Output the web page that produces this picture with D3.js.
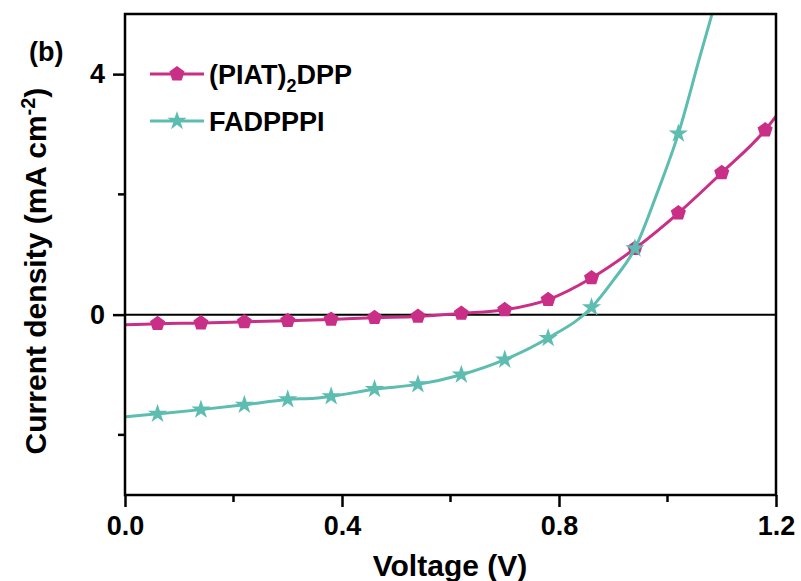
<!DOCTYPE html>
<html>
<head>
<meta charset="utf-8">
<script src="https://cdn.jsdelivr.net/npm/d3@7"></script>
<style>
  body { margin: 0; background: #fff; }
  svg text { font-family: "Liberation Sans", Arial, sans-serif; font-weight: bold; fill: #000; }
</style>
</head>
<body>
<svg id="chart" width="801" height="581"></svg>
<script>
// voltage points
const piatVoltage = [0.0, 0.06, 0.14, 0.22, 0.30, 0.38, 0.46, 0.54, 0.62, 0.70, 0.78, 0.86, 0.94, 1.02, 1.10, 1.18, 1.20];
const piatCurrent = [-0.17, -0.15, -0.14, -0.12, -0.10, -0.08, -0.05, -0.03, 0.02, 0.08, 0.25, 0.61, 1.10, 1.69, 2.36, 3.07, 3.30];
const piatMarked = [0.06, 0.14, 0.22, 0.30, 0.38, 0.46, 0.54, 0.62, 0.70, 0.78, 0.86, 0.94, 1.02, 1.10, 1.18];

const fadVoltage = [0.0, 0.06, 0.14, 0.22, 0.30, 0.35, 0.38, 0.46, 0.54, 0.62, 0.70, 0.78, 0.86, 0.90, 0.94, 0.98, 1.02, 1.06, 1.09];
const fadCurrent = [-1.70, -1.65, -1.58, -1.50, -1.41, -1.39, -1.36, -1.24, -1.16, -1.00, -0.75, -0.39, 0.12, 0.57, 1.10, 2.00, 3.01, 4.30, 5.25];
const fadMarked = [0.06, 0.14, 0.22, 0.30, 0.38, 0.46, 0.54, 0.62, 0.70, 0.78, 0.86, 0.94, 1.02];

const xMajor = [0.0, 0.4, 0.8, 1.2];
const xMinor = [0.2, 0.6, 1.0];
const yMajor = [0, 4];
const yMinor = [-2, 2];

const pink = "#c92f86";
const teal = "#5cbdb0";

const plotLeft = 125, plotRight = 776, plotTop = 14, plotBottom = 495;
const svg = d3.select("#chart");

const x = d3.scaleLinear().domain([0, 1.2]).range([plotLeft, plotRight]);
const y = d3.scaleLinear().domain([-3, 5]).range([plotBottom, plotTop]);

svg.append("defs").append("clipPath").attr("id", "plot-clip")
  .append("rect").attr("x", plotLeft).attr("y", plotTop)
  .attr("width", plotRight - plotLeft).attr("height", plotBottom - plotTop);

// pentagon symbol for d3.symbol
const pentagon = {
  draw(ctx, size) {
    const r = Math.sqrt(size / 2.378);
    for (let i = 0; i < 5; i++) {
      const a = -Math.PI / 2 + i * 2 * Math.PI / 5;
      const px = r * Math.cos(a), py = r * Math.sin(a);
      if (i === 0) ctx.moveTo(px, py); else ctx.lineTo(px, py);
    }
    ctx.closePath();
  }
};

// zero line
svg.append("line")
  .attr("x1", plotLeft).attr("x2", plotRight)
  .attr("y1", y(0)).attr("y2", y(0))
  .attr("stroke", "#000").attr("stroke-width", 2);

const line = d3.line().x(d => x(d[0])).y(d => y(d[1])).curve(d3.curveMonotoneX);

const series = [
  { volt: piatVoltage, cur: piatCurrent, marked: piatMarked, color: pink, sym: pentagon, size: 150 },
  { volt: fadVoltage, cur: fadCurrent, marked: fadMarked, color: teal, sym: d3.symbolStar, size: 115 }
];

const plot = svg.append("g").attr("clip-path", "url(#plot-clip)");
series.forEach(s => {
  const pts = s.volt.map((v, i) => [v, s.cur[i]]);
  plot.append("path")
    .datum(pts)
    .attr("d", line)
    .attr("fill", "none")
    .attr("stroke", s.color)
    .attr("stroke-width", 3);

  plot.selectAll(null)
    .data(pts.filter(p => s.marked.some(m => Math.abs(m - p[0]) < 1e-6)))
    .enter()
    .append("path")
    .attr("d", d3.symbol().type(s.sym).size(s.size))
    .attr("transform", d => `translate(${x(d[0])},${y(d[1])})`)
    .attr("fill", s.color);
});

// axes
const xAxis = svg.append("g").attr("transform", `translate(0,${plotBottom})`)
  .call(d3.axisBottom(x).tickValues(xMajor).tickFormat(d3.format(".1f")).tickSize(12).tickPadding(9));
xAxis.append("g").attr("class", "minor").selectAll("line").data(xMinor).enter().append("line")
  .attr("x1", d => x(d)).attr("x2", d => x(d)).attr("y1", 0).attr("y2", 7);

const yAxis = svg.append("g").attr("transform", `translate(${plotLeft},0)`)
  .call(d3.axisLeft(y).tickValues(yMajor).tickFormat(d3.format("d")).tickSize(12).tickPadding(8));
yAxis.append("g").attr("class", "minor").selectAll("line").data(yMinor).enter().append("line")
  .attr("x1", 0).attr("x2", -7).attr("y1", d => y(d)).attr("y2", d => y(d));

svg.selectAll(".domain").remove();
svg.selectAll(".tick line, .minor line").attr("stroke", "#000").attr("stroke-width", 2.5);
svg.selectAll(".tick text").style("font-size", "27px").attr("fill", "#000");

// frame
svg.append("rect")
  .attr("x", plotLeft).attr("y", plotTop)
  .attr("width", plotRight - plotLeft).attr("height", plotBottom - plotTop)
  .attr("fill", "none").attr("stroke", "#000").attr("stroke-width", 2.5);

// titles
svg.append("text")
  .attr("x", 450).attr("y", 576)
  .attr("text-anchor", "middle").style("font-size", "30px")
  .text("Voltage (V)");

const yTitle = svg.append("text")
  .attr("transform", `translate(46,271) rotate(-90)`)
  .attr("text-anchor", "middle").style("font-size", "30px");
yTitle.append("tspan").text("Current density (mA cm");
yTitle.append("tspan").attr("dy", -11).style("font-size", "20px").text("-2");
yTitle.append("tspan").attr("dy", 11).text(")");

svg.append("text").attr("x", 29).attr("y", 61).style("font-size", "27px").text("(b)");

// legend
const legend = [
  { color: pink, sym: pentagon, size: 150, ly: 74 },
  { color: teal, sym: d3.symbolStar, size: 115, ly: 121 }
];
legend.forEach((l, i) => {
  svg.append("line").attr("x1", 150).attr("x2", 204).attr("y1", l.ly).attr("y2", l.ly)
    .attr("stroke", l.color).attr("stroke-width", 3);
  svg.append("path").attr("d", d3.symbol().type(l.sym).size(l.size))
    .attr("transform", `translate(177,${l.ly})`).attr("fill", l.color);
  const t = svg.append("text").attr("x", 209).attr("y", l.ly + 10).style("font-size", "27px");
  if (i === 0) {
    t.append("tspan").text("(PIAT)");
    t.append("tspan").attr("dy", 8).style("font-size", "18px").text("2");
    t.append("tspan").attr("dy", -8).text("DPP");
  } else {
    t.text("FADPPPI");
  }
});
</script>
</body>
</html>
